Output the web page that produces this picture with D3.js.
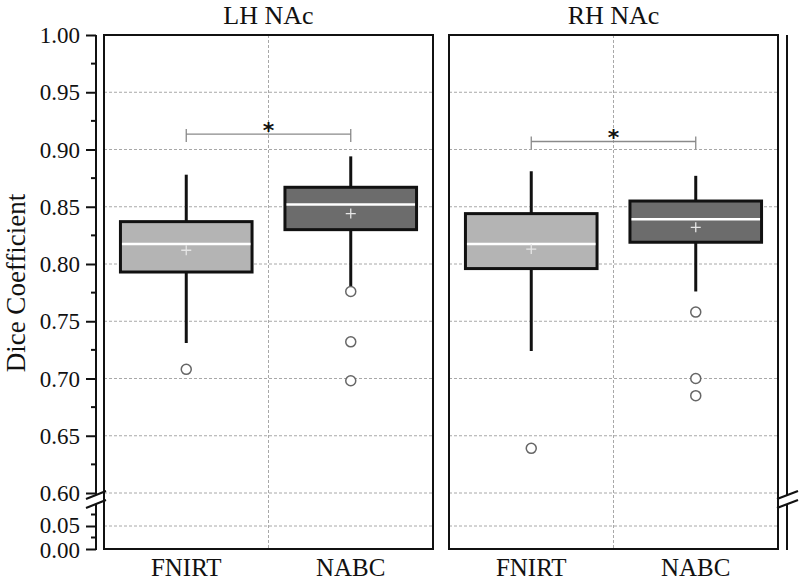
<!DOCTYPE html>
<html>
<head>
<meta charset="utf-8">
<script src="https://cdnjs.cloudflare.com/ajax/libs/d3/7.8.5/d3.min.js"></script>
<style>
body { margin: 0; background: #fff; }
svg text { font-family: "Times New Roman", "Liberation Serif", Tinos, Times, serif; fill: #111; }
</style>
</head>
<body>
<div id="chart"></div>
<script>
// data, order: LH FNIRT, LH NABC, RH FNIRT, RH NABC
var panels = ["LH NAc", "RH NAc"];
var methods = ["FNIRT", "NABC"];
var whiskerLow  = [0.731, 0.779, 0.724, 0.776];
var q1          = [0.793, 0.830, 0.796, 0.819];
var medians     = [0.8175, 0.852, 0.8175, 0.839];
var q3          = [0.837, 0.867, 0.844, 0.855];
var whiskerHigh = [0.878, 0.894, 0.881, 0.877];
var means       = [0.812, 0.844, 0.813, 0.832];
var outliers    = [[0.708], [0.776, 0.732, 0.698], [0.639], [0.758, 0.700, 0.685]];
var sigLevel    = [0.9135, 0.907];
var upperTicks  = [0.60, 0.65, 0.70, 0.75, 0.80, 0.85, 0.90, 0.95, 1.00];
var lowerTicks  = [0.00, 0.05];
var minorUpper  = [0.625, 0.675, 0.725, 0.775, 0.825, 0.875, 0.925, 0.975];
var minorLower  = [0.025, 0.075];
var fills = {"FNIRT": "#b4b4b4", "NABC": "#6c6c6c"};

var w = 800, h = 582;
var svg = d3.select("#chart").append("svg").attr("width", w).attr("height", h);

// broken y axis: two linear pieces
var yUp = d3.scaleLinear().domain([0.6, 1.0]).range([493, 35]);
var yLo = d3.scaleLinear().domain([0, 0.1]).range([549, 503]);
function y(v) { return v >= 0.55 ? yUp(v) : yLo(v); }

var px = d3.scaleBand().domain(panels).range([104, 778]).paddingInner(16 / 345);
var pw = px.bandwidth();
var mx = d3.scalePoint().domain(methods).range([0, pw]).padding(0.5);
var boxW = pw * 0.4;

var grid = "#a8a8a8";

panels.forEach(function(p, pi) {
    var g = svg.append("g").attr("transform", "translate(" + px(p) + ",0)");

    // dotted grid
    g.selectAll("line.hgrid")
        .data(upperTicks.filter(function(d) { return d < 1; }).concat([0.05]))
        .enter().append("line").attr("class", "hgrid")
        .attr("x1", 0).attr("x2", pw)
        .attr("y1", function(d) { return y(d); }).attr("y2", function(d) { return y(d); })
        .attr("stroke", grid).attr("stroke-width", 1).attr("stroke-dasharray", "3,2");
    g.append("line")
        .attr("x1", pw / 2).attr("x2", pw / 2)
        .attr("y1", yUp(1)).attr("y2", yLo(0))
        .attr("stroke", grid).attr("stroke-width", 1).attr("stroke-dasharray", "3,2");

    methods.forEach(function(m, mi) {
        var i = pi * 2 + mi;
        var cx = mx(m);
        // whisker
        g.append("line")
            .attr("x1", cx).attr("x2", cx)
            .attr("y1", y(whiskerLow[i])).attr("y2", y(whiskerHigh[i]))
            .attr("stroke", "#111").attr("stroke-width", 3);
        g.append("rect")
            .attr("x", cx - boxW / 2).attr("width", boxW)
            .attr("y", y(q3[i])).attr("height", y(q1[i]) - y(q3[i]))
            .attr("fill", fills[m]).attr("stroke", "#111").attr("stroke-width", 3);
        g.append("line")
            .attr("x1", cx - boxW / 2 + 1.5).attr("x2", cx + boxW / 2 - 1.5)
            .attr("y1", y(medians[i])).attr("y2", y(medians[i]))
            .attr("stroke", "#fff").attr("stroke-width", 2.5);
        // mean marker
        var my = y(means[i]);
        g.append("path")
            .attr("d", "M" + (cx - 5) + "," + my + "H" + (cx + 5) + "M" + cx + "," + (my - 5) + "V" + (my + 5))
            .attr("stroke", "#e6e6e6").attr("stroke-width", 1.3);
        g.selectAll("circle.o" + mi)
            .data(outliers[i])
            .enter().append("circle").attr("class", "o" + mi)
            .attr("cx", cx).attr("cy", function(d) { return y(d); }).attr("r", 5)
            .attr("fill", "#fff").attr("stroke", "#666").attr("stroke-width", 1.5);
    });

    // significance bracket
    var sy = y(sigLevel[pi]);
    var a = mx(methods[0]), b = mx(methods[1]);
    g.append("path")
        .attr("d", "M" + a + "," + (sy - 5) + "V" + (sy + 8) + "M" + a + "," + sy + "H" + b + "M" + b + "," + (sy - 5) + "V" + (sy + 8))
        .attr("fill", "none").attr("stroke", "#8a8a8a").attr("stroke-width", 1.3);
    g.append("text")
        .attr("x", pw / 2).attr("y", sy + 4)
        .attr("text-anchor", "middle")
        .style("font-family", "'DejaVu Sans', sans-serif").style("font-weight", "bold").style("font-size", "22px")
        .text("*");

    // frame
    g.append("rect")
        .attr("x", 0).attr("y", yUp(1)).attr("width", pw).attr("height", yLo(0) - yUp(1))
        .attr("fill", "none").attr("stroke", "#111").attr("stroke-width", 2);

    g.append("text")
        .attr("x", pw / 2).attr("y", 24)
        .attr("text-anchor", "middle").style("font-size", "26px")
        .text(p);

    g.selectAll("text.xl")
        .data(methods)
        .enter().append("text").attr("class", "xl")
        .attr("x", function(d) { return mx(d); }).attr("y", 576)
        .attr("text-anchor", "middle").style("font-size", "25px")
        .text(function(d) { return d; });
});

// left y axis, drawn in two pieces
var ax = 96;
var axUp = svg.append("g").attr("transform", "translate(" + ax + ",0)")
    .call(d3.axisLeft(yUp).tickValues(upperTicks).tickFormat(d3.format(".2f")).tickSize(10).tickPadding(6));
var axLo = svg.append("g").attr("transform", "translate(" + ax + ",0)")
    .call(d3.axisLeft(yLo).tickValues(lowerTicks).tickFormat(d3.format(".2f")).tickSize(10).tickPadding(6));
[axUp, axLo].forEach(function(a) {
    a.select(".domain").remove();
    a.selectAll("line").attr("stroke", "#111").attr("stroke-width", 2);
    a.selectAll("text").style("font-size", "23px").attr("dy", "0.33em")
        .style("font-family", "'Times New Roman', 'Liberation Serif', serif").attr("fill", "#111");
});
// the two lower labels sit very close, pull them apart a little
axLo.selectAll("text").attr("y", function(d) { return d > 0 ? -1 : 1; });
svg.selectAll("line.minor")
    .data(minorUpper.map(yUp).concat(minorLower.map(yLo)))
    .enter().append("line").attr("class", "minor")
    .attr("x1", ax - 5).attr("x2", ax)
    .attr("y1", function(d) { return d; }).attr("y2", function(d) { return d; })
    .attr("stroke", "#111").attr("stroke-width", 2);

// axis lines with break marks (left and right)
function brokenLine(x, x0, x1) {
    svg.append("line").attr("x1", x).attr("x2", x).attr("y1", yUp(1)).attr("y2", yUp(0.6) + 2)
        .attr("stroke", "#111").attr("stroke-width", 2);
    svg.append("line").attr("x1", x).attr("x2", x).attr("y1", yLo(0.1) + 1).attr("y2", yLo(0) + 1)
        .attr("stroke", "#111").attr("stroke-width", 2);
    [yUp(0.6) + 2, yLo(0.1) + 1].forEach(function(c) {
        svg.append("line").attr("x1", x0).attr("x2", x1).attr("y1", c + 4).attr("y2", c - 4)
            .attr("stroke", "#111").attr("stroke-width", 2);
    });
}
brokenLine(ax, 86, 106);
brokenLine(787, 777, 798);

svg.append("text")
    .attr("transform", "translate(25,283) rotate(-90)")
    .attr("text-anchor", "middle").style("font-size", "27px")
    .text("Dice Coefficient");
</script>
</body>
</html>
